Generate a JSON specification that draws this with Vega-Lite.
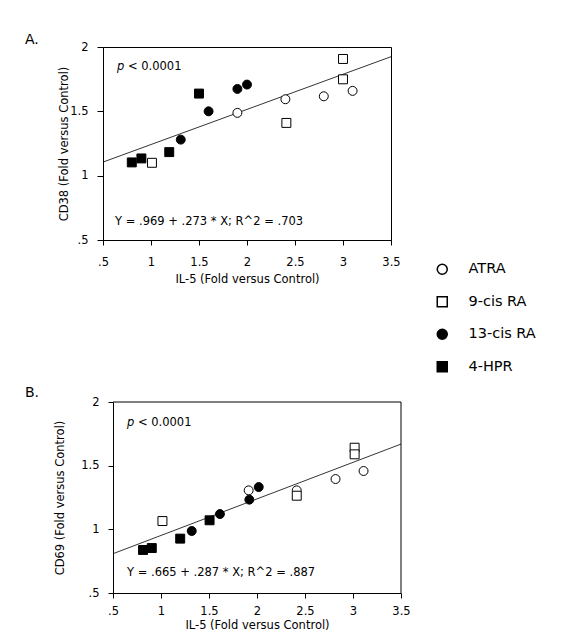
{
  "$schema": "https://vega.github.io/schema/vega-lite/v6.json",
  "padding": {"left": 24, "top": 32, "right": 5, "bottom": 5},
  "spacing": 100,
  "datasets": {
    "pointsA": [
      {"il5": 1.90, "v": 1.488, "treatment": "ATRA"},
      {"il5": 2.40, "v": 1.594, "treatment": "ATRA"},
      {"il5": 2.80, "v": 1.617, "treatment": "ATRA"},
      {"il5": 3.10, "v": 1.659, "treatment": "ATRA"},
      {"il5": 3.00, "v": 1.907, "treatment": "9-cis RA"},
      {"il5": 3.00, "v": 1.749, "treatment": "9-cis RA"},
      {"il5": 2.41, "v": 1.410, "treatment": "9-cis RA"},
      {"il5": 1.01, "v": 1.100, "treatment": "9-cis RA"},
      {"il5": 1.90, "v": 1.674, "treatment": "13-cis RA"},
      {"il5": 2.00, "v": 1.708, "treatment": "13-cis RA"},
      {"il5": 1.60, "v": 1.500, "treatment": "13-cis RA"},
      {"il5": 1.31, "v": 1.280, "treatment": "13-cis RA"},
      {"il5": 1.50, "v": 1.638, "treatment": "4-HPR"},
      {"il5": 0.80, "v": 1.103, "treatment": "4-HPR"},
      {"il5": 0.90, "v": 1.134, "treatment": "4-HPR"},
      {"il5": 1.19, "v": 1.183, "treatment": "4-HPR"}
    ],
    "pointsB": [
      {"il5": 1.913, "v": 1.306, "treatment": "ATRA"},
      {"il5": 2.414, "v": 1.306, "treatment": "ATRA"},
      {"il5": 2.818, "v": 1.395, "treatment": "ATRA"},
      {"il5": 3.110, "v": 1.458, "treatment": "ATRA"},
      {"il5": 1.015, "v": 1.065, "treatment": "9-cis RA"},
      {"il5": 2.414, "v": 1.264, "treatment": "9-cis RA"},
      {"il5": 3.017, "v": 1.641, "treatment": "9-cis RA"},
      {"il5": 3.017, "v": 1.589, "treatment": "9-cis RA"},
      {"il5": 2.018, "v": 1.332, "treatment": "13-cis RA"},
      {"il5": 1.920, "v": 1.233, "treatment": "13-cis RA"},
      {"il5": 1.614, "v": 1.120, "treatment": "13-cis RA"},
      {"il5": 1.320, "v": 0.987, "treatment": "13-cis RA"},
      {"il5": 1.506, "v": 1.071, "treatment": "4-HPR"},
      {"il5": 1.200, "v": 0.927, "treatment": "4-HPR"},
      {"il5": 0.813, "v": 0.838, "treatment": "4-HPR"},
      {"il5": 0.904, "v": 0.853, "treatment": "4-HPR"}
    ],
    "fitA": [{"il5": 0.5, "v": 1.1055}, {"il5": 3.5, "v": 1.9245}],
    "fitB": [{"il5": 0.5, "v": 0.8085}, {"il5": 3.5, "v": 1.6695}],
    "frameB": [
      {"il5": 0.5, "il5b": 3.5, "v": 2, "vb": 2},
      {"il5": 3.5, "il5b": 3.5, "v": 0.5, "vb": 2}
    ],
    "notesA": [
      {"il5": 0.625, "v": 0.64, "t": "Y = .969 + .273 * X; R^2 = .703", "kind": "eq"},
      {"il5": 0.646, "v": 1.845, "t": "p", "kind": "p"},
      {"il5": 0.76, "v": 1.845, "t": "< 0.0001", "kind": "rest"}
    ],
    "notesB": [
      {"il5": 0.646, "v": 0.657, "t": "Y = .665 + .287 * X; R^2 = .887", "kind": "eq"},
      {"il5": 0.646, "v": 1.835, "t": "p", "kind": "p"},
      {"il5": 0.76, "v": 1.835, "t": "< 0.0001", "kind": "rest"}
    ]
  },
  "config": {
    "font": "DejaVu Sans",
    "view": {"stroke": "black", "strokeWidth": 1},
    "axis": {
      "grid": false,
      "domainColor": "black",
      "tickColor": "black",
      "labelColor": "black",
      "titleColor": "black",
      "labelFont": "DejaVu Sans",
      "titleFont": "DejaVu Sans",
      "labelFontSize": 11.5,
      "titleFontSize": 11.5,
      "titleFontWeight": "normal"
    },
    "legend": {
      "labelFont": "DejaVu Sans",
      "labelFontSize": 14.5,
      "labelColor": "black"
    },
    "title": {"font": "DejaVu Sans", "fontSize": 14, "fontWeight": "normal", "color": "black"}
  },
  "resolve": {"legend": {"shape": "shared", "fill": "shared"}},
  "vconcat": [
    {
      "width": 288,
      "height": 193,
      "title": {"text": "A.", "anchor": "start", "frame": "group", "dx": -78, "offset": -17, "baseline": "alphabetic"},
      "layer": [
        {
          "data": {"name": "fitA"},
          "mark": {"type": "line", "color": "black", "strokeWidth": 0.8},
          "encoding": {
            "x": {"field": "il5", "type": "quantitative", "scale": {"domain": [0.5, 3.5], "nice": false, "zero": false},
              "axis": {"title": "IL-5 (Fold versus Control)", "values": [0.5,0.75,1,1.25,1.5,1.75,2,2.25,2.5,2.75,3,3.25,3.5],
                "labelExpr": "datum.value == 0.5 ? '.5' : ((datum.value * 2) % 1 == 0 ? format(datum.value, '~g') : '')",
                "tickSize": 5, "labelPadding": 11, "titlePadding": 6, "labelFlush": false}},
            "y": {"field": "v", "type": "quantitative", "scale": {"domain": [0.5, 2], "nice": false, "zero": false},
              "axis": {"title": "CD38 (Fold versus Control)", "values": [0.5,0.75,1,1.25,1.5,1.75,2],
                "labelExpr": "datum.value == 0.5 ? '.5' : ((datum.value * 2) % 1 == 0 ? format(datum.value, '~g') : '')",
                "tickSize": {"expr": "(datum.value * 2) % 1 == 0 ? 6 : 3"}, "labelPadding": 9, "titlePadding": 0, "labelFlush": false}}
          }
        },
        {
          "data": {"name": "pointsA"},
          "mark": {"type": "point", "filled": true, "stroke": "black", "strokeWidth": 1, "size": 80, "opacity": 1},
          "encoding": {
            "x": {"field": "il5", "type": "quantitative"},
            "y": {"field": "v", "type": "quantitative"},
            "shape": {"field": "treatment", "type": "nominal", "scale": {"domain": ["ATRA", "9-cis RA", "13-cis RA", "4-HPR"], "range": ["circle", "square", "circle", "square"]},
              "legend": {"title": null, "orient": "none", "legendX": 332, "legendY": 215, "symbolSize": 100, "rowPadding": 15.5, "labelOffset": 19,
                "encode": {"symbols": {"update": {"stroke": {"value": "black"}, "strokeWidth": {"value": 1}}}}}},
            "fill": {"field": "treatment", "type": "nominal", "scale": {"domain": ["ATRA", "9-cis RA", "13-cis RA", "4-HPR"], "range": ["white", "white", "black", "black"]},
              "legend": {"title": null, "orient": "none", "legendX": 332, "legendY": 215, "symbolSize": 100, "rowPadding": 15.5, "labelOffset": 19,
                "encode": {"symbols": {"update": {"stroke": {"value": "black"}, "strokeWidth": {"value": 1}}}}}}
          }
        },
        {
          "data": {"name": "notesA"},
          "transform": [{"filter": "datum.kind != 'p'"}],
          "mark": {"type": "text", "align": "left", "baseline": "middle", "fontSize": 11.5, "color": "black"},
          "encoding": {
            "x": {"field": "il5", "type": "quantitative"},
            "y": {"field": "v", "type": "quantitative"},
            "text": {"field": "t"}
          }
        },
        {
          "data": {"name": "notesA"},
          "transform": [{"filter": "datum.kind == 'p'"}],
          "mark": {"type": "text", "align": "left", "baseline": "middle", "fontSize": 11.5, "fontStyle": "italic", "color": "black"},
          "encoding": {
            "x": {"field": "il5", "type": "quantitative"},
            "y": {"field": "v", "type": "quantitative"},
            "text": {"field": "t"}
          }
        }
      ]
    },
    {
      "width": 298,
      "height": 191,
      "view": {"stroke": null},
      "title": {"text": "B.", "anchor": "start", "frame": "group", "dx": -78, "offset": -15, "baseline": "alphabetic"},
      "layer": [
        {
          "data": {"name": "fitB"},
          "mark": {"type": "line", "color": "black", "strokeWidth": 0.8},
          "encoding": {
            "x": {"field": "il5", "type": "quantitative", "scale": {"domain": [0.5, 3.5], "range": [10, 298], "nice": false, "zero": false},
              "axis": {"title": "IL-5 (Fold versus Control)", "values": [0.5,0.75,1,1.25,1.5,1.75,2,2.25,2.5,2.75,3,3.25,3.5],
                "labelExpr": "datum.value == 0.5 ? '.5' : ((datum.value * 2) % 1 == 0 ? format(datum.value, '~g') : '')",
                "tickSize": 5, "labelPadding": 7, "titlePadding": 3, "labelFlush": false}},
            "y": {"field": "v", "type": "quantitative", "scale": {"domain": [0.5, 2], "nice": false, "zero": false},
              "axis": {"title": "CD69 (Fold versus Control)", "values": [0.5,0.75,1,1.25,1.5,1.75,2], "offset": -10,
                "labelExpr": "datum.value == 0.5 ? '.5' : ((datum.value * 2) % 1 == 0 ? format(datum.value, '~g') : '')",
                "tickSize": {"expr": "(datum.value * 2) % 1 == 0 ? 5 : 3"}, "labelPadding": 9, "titlePadding": 15, "labelFlush": false}}
          }
        },
        {
          "data": {"name": "frameB"},
          "mark": {"type": "rule", "color": "black", "strokeWidth": 1},
          "encoding": {
            "x": {"field": "il5", "type": "quantitative"},
            "x2": {"field": "il5b"},
            "y": {"field": "v", "type": "quantitative"},
            "y2": {"field": "vb"}
          }
        },
        {
          "data": {"name": "pointsB"},
          "mark": {"type": "point", "filled": true, "stroke": "black", "strokeWidth": 1, "size": 80, "opacity": 1},
          "encoding": {
            "x": {"field": "il5", "type": "quantitative"},
            "y": {"field": "v", "type": "quantitative"},
            "shape": {"field": "treatment", "type": "nominal"},
            "fill": {"field": "treatment", "type": "nominal"}
          }
        },
        {
          "data": {"name": "notesB"},
          "transform": [{"filter": "datum.kind != 'p'"}],
          "mark": {"type": "text", "align": "left", "baseline": "middle", "fontSize": 11.5, "color": "black"},
          "encoding": {
            "x": {"field": "il5", "type": "quantitative"},
            "y": {"field": "v", "type": "quantitative"},
            "text": {"field": "t"}
          }
        },
        {
          "data": {"name": "notesB"},
          "transform": [{"filter": "datum.kind == 'p'"}],
          "mark": {"type": "text", "align": "left", "baseline": "middle", "fontSize": 11.5, "fontStyle": "italic", "color": "black"},
          "encoding": {
            "x": {"field": "il5", "type": "quantitative"},
            "y": {"field": "v", "type": "quantitative"},
            "text": {"field": "t"}
          }
        }
      ]
    }
  ]
}
